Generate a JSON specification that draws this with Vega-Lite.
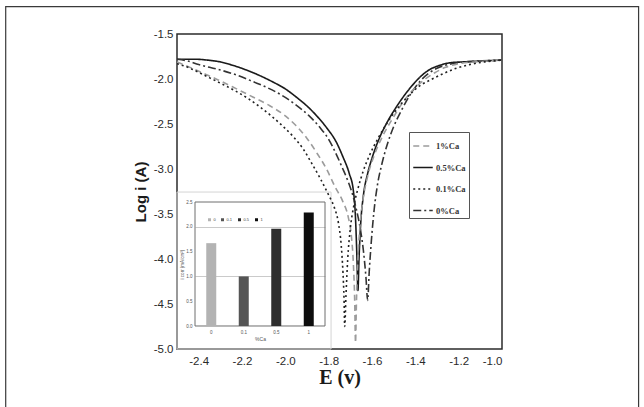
{
  "$schema": "https://vega.github.io/schema/vega-lite/v6.json",
  "width": 325,
  "height": 315,
  "autosize": {"type": "none"},
  "padding": {"left": 177, "top": 34, "right": 142, "bottom": 58},
  "background": "white",
  "config": {
    "view": {"stroke": "#2b2b2b", "strokeWidth": 1.5},
    "font": "Liberation Sans",
    "axis": {"grid": false, "domain": false, "ticks": false}
  },
  "datasets": {
    "curves": [
      {"s": "0.5%Ca", "E": -2.5, "L": -1.78}, {"s": "0.5%Ca", "E": -2.42, "L": -1.78}, {"s": "0.5%Ca", "E": -2.36, "L": -1.79}, {"s": "0.5%Ca", "E": -2.30, "L": -1.81}, {"s": "0.5%Ca", "E": -2.24, "L": -1.85}, {"s": "0.5%Ca", "E": -2.18, "L": -1.90}, {"s": "0.5%Ca", "E": -2.12, "L": -1.96}, {"s": "0.5%Ca", "E": -2.06, "L": -2.03}, {"s": "0.5%Ca", "E": -2.00, "L": -2.11}, {"s": "0.5%Ca", "E": -1.95, "L": -2.20}, {"s": "0.5%Ca", "E": -1.90, "L": -2.30}, {"s": "0.5%Ca", "E": -1.855, "L": -2.41}, {"s": "0.5%Ca", "E": -1.81, "L": -2.54}, {"s": "0.5%Ca", "E": -1.765, "L": -2.70}, {"s": "0.5%Ca", "E": -1.735, "L": -2.86}, {"s": "0.5%Ca", "E": -1.705, "L": -3.05}, {"s": "0.5%Ca", "E": -1.686, "L": -3.24}, {"s": "0.5%Ca", "E": -1.676, "L": -3.55}, {"s": "0.5%Ca", "E": -1.670, "L": -3.95}, {"s": "0.5%Ca", "E": -1.665, "L": -4.35},
      {"s": "0.5%Ca", "E": -1.660, "L": -4.0}, {"s": "0.5%Ca", "E": -1.652, "L": -3.6}, {"s": "0.5%Ca", "E": -1.64, "L": -3.3}, {"s": "0.5%Ca", "E": -1.62, "L": -3.05}, {"s": "0.5%Ca", "E": -1.60, "L": -2.88}, {"s": "0.5%Ca", "E": -1.57, "L": -2.68}, {"s": "0.5%Ca", "E": -1.53, "L": -2.48}, {"s": "0.5%Ca", "E": -1.49, "L": -2.32}, {"s": "0.5%Ca", "E": -1.45, "L": -2.18}, {"s": "0.5%Ca", "E": -1.41, "L": -2.06}, {"s": "0.5%Ca", "E": -1.37, "L": -1.96}, {"s": "0.5%Ca", "E": -1.33, "L": -1.89}, {"s": "0.5%Ca", "E": -1.29, "L": -1.85}, {"s": "0.5%Ca", "E": -1.24, "L": -1.82}, {"s": "0.5%Ca", "E": -1.18, "L": -1.81}, {"s": "0.5%Ca", "E": -1.10, "L": -1.80}, {"s": "0.5%Ca", "E": -1.0, "L": -1.79},

      {"s": "0%Ca", "E": -2.5, "L": -1.78}, {"s": "0%Ca", "E": -2.45, "L": -1.80}, {"s": "0%Ca", "E": -2.40, "L": -1.84}, {"s": "0%Ca", "E": -2.35, "L": -1.87}, {"s": "0%Ca", "E": -2.30, "L": -1.90}, {"s": "0%Ca", "E": -2.22, "L": -1.96}, {"s": "0%Ca", "E": -2.148, "L": -2.03}, {"s": "0%Ca", "E": -2.08, "L": -2.10}, {"s": "0%Ca", "E": -2.01, "L": -2.19}, {"s": "0%Ca", "E": -1.95, "L": -2.29}, {"s": "0%Ca", "E": -1.89, "L": -2.41}, {"s": "0%Ca", "E": -1.84, "L": -2.54}, {"s": "0%Ca", "E": -1.80, "L": -2.67}, {"s": "0%Ca", "E": -1.77, "L": -2.81}, {"s": "0%Ca", "E": -1.74, "L": -2.97}, {"s": "0%Ca", "E": -1.71, "L": -3.14}, {"s": "0%Ca", "E": -1.69, "L": -3.28}, {"s": "0%Ca", "E": -1.672, "L": -3.45}, {"s": "0%Ca", "E": -1.655, "L": -3.65}, {"s": "0%Ca", "E": -1.64, "L": -3.9}, {"s": "0%Ca", "E": -1.628, "L": -4.2}, {"s": "0%Ca", "E": -1.62, "L": -4.46},
      {"s": "0%Ca", "E": -1.613, "L": -4.15}, {"s": "0%Ca", "E": -1.603, "L": -3.8}, {"s": "0%Ca", "E": -1.59, "L": -3.45}, {"s": "0%Ca", "E": -1.575, "L": -3.18}, {"s": "0%Ca", "E": -1.555, "L": -2.95}, {"s": "0%Ca", "E": -1.53, "L": -2.73}, {"s": "0%Ca", "E": -1.50, "L": -2.53}, {"s": "0%Ca", "E": -1.46, "L": -2.33}, {"s": "0%Ca", "E": -1.42, "L": -2.16}, {"s": "0%Ca", "E": -1.38, "L": -2.03}, {"s": "0%Ca", "E": -1.34, "L": -1.94}, {"s": "0%Ca", "E": -1.30, "L": -1.88}, {"s": "0%Ca", "E": -1.25, "L": -1.84}, {"s": "0%Ca", "E": -1.20, "L": -1.82}, {"s": "0%Ca", "E": -1.10, "L": -1.80}, {"s": "0%Ca", "E": -1.0, "L": -1.79},

      {"s": "1%Ca", "E": -2.5, "L": -1.81}, {"s": "1%Ca", "E": -2.45, "L": -1.86}, {"s": "1%Ca", "E": -2.394, "L": -1.92}, {"s": "1%Ca", "E": -2.31, "L": -2.01}, {"s": "1%Ca", "E": -2.225, "L": -2.11}, {"s": "1%Ca", "E": -2.15, "L": -2.20}, {"s": "1%Ca", "E": -2.07, "L": -2.30}, {"s": "1%Ca", "E": -2.00, "L": -2.41}, {"s": "1%Ca", "E": -1.95, "L": -2.52}, {"s": "1%Ca", "E": -1.90, "L": -2.66}, {"s": "1%Ca", "E": -1.855, "L": -2.82}, {"s": "1%Ca", "E": -1.81, "L": -3.00}, {"s": "1%Ca", "E": -1.77, "L": -3.20}, {"s": "1%Ca", "E": -1.735, "L": -3.36}, {"s": "1%Ca", "E": -1.71, "L": -3.53}, {"s": "1%Ca", "E": -1.695, "L": -3.75}, {"s": "1%Ca", "E": -1.686, "L": -4.05}, {"s": "1%Ca", "E": -1.68, "L": -4.45}, {"s": "1%Ca", "E": -1.676, "L": -4.93},
      {"s": "1%Ca", "E": -1.672, "L": -4.5}, {"s": "1%Ca", "E": -1.666, "L": -4.05}, {"s": "1%Ca", "E": -1.656, "L": -3.65}, {"s": "1%Ca", "E": -1.642, "L": -3.35}, {"s": "1%Ca", "E": -1.62, "L": -3.08}, {"s": "1%Ca", "E": -1.59, "L": -2.85}, {"s": "1%Ca", "E": -1.55, "L": -2.63}, {"s": "1%Ca", "E": -1.50, "L": -2.42}, {"s": "1%Ca", "E": -1.455, "L": -2.25}, {"s": "1%Ca", "E": -1.41, "L": -2.12}, {"s": "1%Ca", "E": -1.36, "L": -2.01}, {"s": "1%Ca", "E": -1.31, "L": -1.93}, {"s": "1%Ca", "E": -1.26, "L": -1.87}, {"s": "1%Ca", "E": -1.20, "L": -1.83}, {"s": "1%Ca", "E": -1.12, "L": -1.81}, {"s": "1%Ca", "E": -1.0, "L": -1.79},

      {"s": "0.1%Ca", "E": -2.5, "L": -1.83}, {"s": "0.1%Ca", "E": -2.44, "L": -1.88}, {"s": "0.1%Ca", "E": -2.38, "L": -1.95}, {"s": "0.1%Ca", "E": -2.33, "L": -2.01}, {"s": "0.1%Ca", "E": -2.28, "L": -2.07}, {"s": "0.1%Ca", "E": -2.225, "L": -2.14}, {"s": "0.1%Ca", "E": -2.17, "L": -2.22}, {"s": "0.1%Ca", "E": -2.117, "L": -2.31}, {"s": "0.1%Ca", "E": -2.06, "L": -2.42}, {"s": "0.1%Ca", "E": -2.009, "L": -2.53}, {"s": "0.1%Ca", "E": -1.96, "L": -2.65}, {"s": "0.1%Ca", "E": -1.917, "L": -2.78}, {"s": "0.1%Ca", "E": -1.88, "L": -2.93}, {"s": "0.1%Ca", "E": -1.84, "L": -3.10}, {"s": "0.1%Ca", "E": -1.80, "L": -3.29}, {"s": "0.1%Ca", "E": -1.775, "L": -3.42}, {"s": "0.1%Ca", "E": -1.755, "L": -3.60}, {"s": "0.1%Ca", "E": -1.742, "L": -3.85}, {"s": "0.1%Ca", "E": -1.734, "L": -4.15}, {"s": "0.1%Ca", "E": -1.729, "L": -4.45}, {"s": "0.1%Ca", "E": -1.726, "L": -4.75},
      {"s": "0.1%Ca", "E": -1.72, "L": -4.4}, {"s": "0.1%Ca", "E": -1.712, "L": -4.0}, {"s": "0.1%Ca", "E": -1.70, "L": -3.66}, {"s": "0.1%Ca", "E": -1.685, "L": -3.42}, {"s": "0.1%Ca", "E": -1.665, "L": -3.22}, {"s": "0.1%Ca", "E": -1.64, "L": -3.02}, {"s": "0.1%Ca", "E": -1.61, "L": -2.84}, {"s": "0.1%Ca", "E": -1.57, "L": -2.65}, {"s": "0.1%Ca", "E": -1.52, "L": -2.45}, {"s": "0.1%Ca", "E": -1.47, "L": -2.29}, {"s": "0.1%Ca", "E": -1.42, "L": -2.16}, {"s": "0.1%Ca", "E": -1.37, "L": -2.06}, {"s": "0.1%Ca", "E": -1.33, "L": -2.01}, {"s": "0.1%Ca", "E": -1.28, "L": -1.95}, {"s": "0.1%Ca", "E": -1.21, "L": -1.88}, {"s": "0.1%Ca", "E": -1.15, "L": -1.84}, {"s": "0.1%Ca", "E": -1.08, "L": -1.81}, {"s": "0.1%Ca", "E": -1.0, "L": -1.79}
    ],
    "bars": [
      {"ca": "0", "v": 1.67},
      {"ca": "0.1", "v": 1.0},
      {"ca": "0.5", "v": 1.96},
      {"ca": "1", "v": 2.29}
    ]
  },
  "layer": [
    {
      "layer": [
        {
          "data": {"values": [{}]},
          "mark": {"type": "rect", "fill": "white", "fillOpacity": 0, "stroke": "#3a3a3a", "strokeWidth": 1.2, "clip": false},
          "encoding": {
            "x": {"datum": -3.2906, "type": "quantitative"},
            "x2": {"datum": -0.3696},
            "y": {"datum": -1.1967, "type": "quantitative"},
            "y2": {"datum": -5.75}
          }
        },
        {
          "data": {"values": [{}]},
          "mark": {"type": "rect", "fill": "white", "fillOpacity": 0, "stroke": "#d4d4d4", "strokeWidth": 1},
          "encoding": {
            "x": {"datum": -2.5, "type": "quantitative"},
            "x2": {"datum": -1.789},
            "y": {"datum": -3.256, "type": "quantitative"},
            "y2": {"datum": -5.0}
          }
        },
        {
          "data": {"values": [{}]},
          "mark": {"type": "rect", "fill": "white", "fillOpacity": 0, "stroke": "#6e6e6e", "strokeWidth": 1},
          "encoding": {
            "x": {"datum": -2.4169, "type": "quantitative"},
            "x2": {"datum": -1.8169},
            "y": {"datum": -3.3667, "type": "quantitative"},
            "y2": {"datum": -4.7444}
          }
        },
        {
          "data": {"name": "curves"},
          "mark": {"type": "line", "strokeWidth": 1.6, "clip": true, "interpolate": "monotone"},
          "encoding": {
            "x": {
              "field": "E", "type": "quantitative",
              "scale": {"domain": [-2.5, -1.0], "nice": false, "zero": false},
              "axis": {
                "orient": "bottom",
                "values": [-2.4, -2.2, -2.0, -1.8, -1.6, -1.4, -1.2, -1.0],
                "labelExpr": "replace(format(datum.value, '.1f'), '\u2212', '-')",
                "labelFontSize": 11.5, "labelColor": "#2a2a2a", "labelPadding": 6,
                "title": "E (v)", "titleFont": "Liberation Serif", "titleFontSize": 20, "titleFontWeight": "bold",
                "titleColor": "#1a1a1a", "titlePadding": 1
              }
            },
            "y": {
              "field": "L", "type": "quantitative",
              "scale": {"domain": [-5.0, -1.5], "nice": false, "zero": false},
              "axis": {
                "orient": "left",
                "values": [-1.5, -2.0, -2.5, -3.0, -3.5, -4.0, -4.5, -5.0],
                "labelExpr": "replace(format(datum.value, '.1f'), '\u2212', '-')",
                "labelFontSize": 11.5, "labelColor": "#2a2a2a", "labelPadding": 4,
                "title": "Log i (A)", "titleFontSize": 15, "titleFontWeight": "bold",
                "titleColor": "#1a1a1a", "titlePadding": 5
              }
            },
            "color": {
              "field": "s", "type": "nominal",
              "scale": {"domain": ["1%Ca", "0.5%Ca", "0.1%Ca", "0%Ca"], "range": ["#9c9c9c", "#1a1a1a", "#222222", "#333333"]},
              "legend": {
                "orient": "none", "legendX": 232, "legendY": 98, "title": null,
                "symbolType": "stroke", "symbolSize": 380, "symbolStrokeWidth": 1.6,
                "labelFont": "Liberation Serif", "labelFontWeight": "bold", "labelFontSize": 8.5, "labelColor": "#333",
                "strokeColor": "#555", "fillColor": "white", "padding": 3, "rowPadding": 5.5, "labelOffset": 2
              }
            },
            "strokeDash": {
              "field": "s", "type": "nominal",
              "scale": {"domain": ["1%Ca", "0.5%Ca", "0.1%Ca", "0%Ca"], "range": [[6, 4], [1, 0], [2, 3], [8, 3, 2, 3]]},
              "legend": {
                "orient": "none", "legendX": 232, "legendY": 98, "title": null,
                "symbolType": "stroke", "symbolSize": 380, "symbolStrokeWidth": 1.6,
                "labelFont": "Liberation Serif", "labelFontWeight": "bold", "labelFontSize": 8.5, "labelColor": "#333",
                "strokeColor": "#555", "fillColor": "white", "padding": 3, "rowPadding": 5.5, "labelOffset": 2
              }
            }
          }
        }
      ]
    },
    {
      "data": {"name": "bars"},
      "mark": {"type": "bar", "width": 10},
      "encoding": {
        "x": {
          "field": "ca", "type": "nominal", "sort": null,
          "scale": {"range": [18, 148], "paddingInner": 0, "paddingOuter": 0},
          "axis": {
            "orient": "bottom", "offset": -23, "labelAngle": 0,
            "labelFontSize": 4.5, "labelColor": "#555", "labelPadding": 3,
            "title": "%Ca", "titleFontSize": 5, "titleFontWeight": "normal", "titleColor": "#555", "titlePadding": 3
          }
        },
        "y": {
          "field": "v", "type": "quantitative",
          "scale": {"domain": [0, 2.5], "range": [292, 168], "nice": false},
          "axis": {
            "orient": "left", "offset": -18,
            "values": [0, 0.5, 1, 1.5, 2, 2.5],
            "labelFontSize": 4.5, "labelColor": "#555", "labelPadding": 3,
            "grid": true, "gridColor": "#bdbdbd", "gridWidth": 0.8,
            "gridOpacity": {"condition": {"test": "datum.value === 1 || datum.value === 2", "value": 1}, "value": 0},
            "title": "i corr (mA/cm²)", "titleFontSize": 4.5, "titleFontWeight": "normal", "titleColor": "#555", "titlePadding": 1
          }
        },
        "fill": {
          "field": "ca", "type": "nominal", "sort": null,
          "scale": {"domain": ["0", "0.1", "0.5", "1"], "range": ["#b3b3b3", "#555555", "#2e2e2e", "#0d0d0d"]},
          "legend": {
            "orient": "none", "legendX": 30, "legendY": 183, "direction": "horizontal", "title": null,
            "symbolType": "square", "symbolSize": 9, "labelFontSize": 4, "labelColor": "#444",
            "columnPadding": 4, "labelOffset": 1.5
          }
        }
      }
    }
  ],
  "resolve": {
    "scale": {"x": "independent", "y": "independent"},
    "axis": {"x": "independent", "y": "independent"}
  }
}
